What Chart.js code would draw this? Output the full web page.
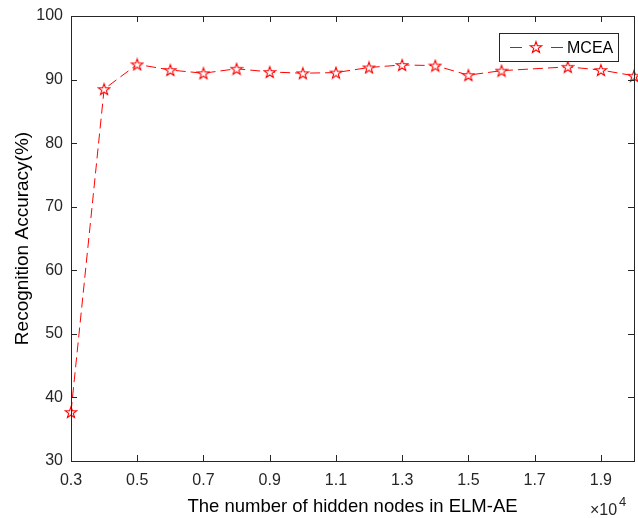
<!DOCTYPE html>
<html><head><meta charset="utf-8">
<script src="https://cdn.jsdelivr.net/npm/chart.js@4"></script>
<style>html,body{margin:0;padding:0;background:#fff}#wrap{width:638px;height:518px}</style>
</head><body><div id="wrap"><canvas id="c" width="638" height="518"></canvas></div>
<script>
const nodes = [0.3,0.4,0.5,0.6,0.7,0.8,0.9,1.0,1.1,1.2,1.3,1.4,1.5,1.6,1.8,1.9,2.0];
const accuracy = [37.7,88.5,92.4,91.5,91.0,91.7,91.2,91.0,91.1,91.9,92.3,92.2,90.7,91.4,92.0,91.5,90.6];
const xTicks = [0.3,0.5,0.7,0.9,1.1,1.3,1.5,1.7,1.9];
const yTicks = [30,40,50,60,70,80,90,100];
const seriesName = 'MCEA';
const xTitle = 'The number of hidden nodes in ELM-AE';
const yTitle = 'Recognition Accuracy(%)';
const FONT = '"Liberation Sans", Arial, sans-serif';

function pentagram(size){
  const cv = document.createElement('canvas');
  cv.width = size; cv.height = size;
  const g = cv.getContext('2d');
  const cx = size/2, cy = size/2 + 0.6, R = size/2 - 1, r = R*0.40;
  g.beginPath();
  for(let i=0;i<10;i++){
    const a = -Math.PI/2 + i*Math.PI/5;
    const rr = i%2===0 ? R : r;
    const px = cx + rr*Math.cos(a), py = cy + rr*Math.sin(a);
    if(i===0) g.moveTo(px,py); else g.lineTo(px,py);
  }
  g.closePath();
  g.fillStyle = '#fff'; g.fill();
  g.strokeStyle = '#ff0000'; g.lineWidth = 1.1; g.stroke();
  return cv;
}
const star = pentagram(14);

const frame = {
  id:'frame',
  afterDraw(chart){
    const {ctx, chartArea:a, scales} = chart;
    ctx.save();
    ctx.strokeStyle = '#262626'; ctx.lineWidth = 1;
    ctx.strokeRect(Math.round(a.left)+0.5, Math.round(a.top)+0.5, Math.round(a.right-a.left), Math.round(a.bottom-a.top));
    const tl = 6;
    ctx.beginPath();
    xTicks.forEach(v=>{
      const x = Math.round(scales.x.getPixelForValue(v))+0.5;
      ctx.moveTo(x, a.bottom); ctx.lineTo(x, a.bottom - tl);
      ctx.moveTo(x, a.top); ctx.lineTo(x, a.top + tl);
    });
    yTicks.forEach(v=>{
      const y = Math.round(scales.y.getPixelForValue(v))+0.5;
      ctx.moveTo(a.left, y); ctx.lineTo(a.left + tl, y);
      ctx.moveTo(a.right, y); ctx.lineTo(a.right - tl, y);
    });
    ctx.stroke();
    // x10^4 multiplier
    ctx.fillStyle = '#262626';
    ctx.textBaseline = 'alphabetic';
    ctx.font = '16px ' + FONT;
    ctx.fillText('\u00d710', 590, 515);
    ctx.font = '13px ' + FONT;
    ctx.fillText('4', 619, 506);
    // legend
    const lx = 499, ly = 33, lw = 119, lh = 28;
    ctx.fillStyle = '#fff';
    ctx.fillRect(lx, ly, lw, lh);
    ctx.strokeStyle = '#262626';
    ctx.strokeRect(lx+0.5, ly+0.5, lw, lh);
    const cy = ly + lh/2 + 0.5;
    ctx.strokeStyle = '#ff0000'; ctx.lineWidth = 1;
    ctx.beginPath();
    ctx.moveTo(510, cy); ctx.lineTo(522, cy);
    ctx.moveTo(551, cy); ctx.lineTo(563, cy);
    ctx.stroke();
    ctx.drawImage(star, 536 - star.width/2, cy - star.height/2 - 0.5);
    ctx.fillStyle = '#000';
    ctx.font = '16px ' + FONT;
    ctx.textBaseline = 'middle';
    ctx.fillText(seriesName, 567, cy + 1);
    ctx.restore();
  }
};

new Chart(document.getElementById('c'), {
  type:'line',
  data:{
    datasets:[{
      label: seriesName,
      data: nodes.map((x,i)=>({x, y: accuracy[i]})),
      borderColor:'#ff0000',
      borderWidth:1,
      borderDash:[10,5],
      pointStyle: star,
      pointRadius: 7,
      pointHoverRadius: 7,
      tension:0,
      fill:false,
      clip:false
    }]
  },
  options:{
    responsive:false,
    animation:false,
    devicePixelRatio:1,
    layout:{autoPadding:false, padding:{left:0,right:4,top:16,bottom:0}},
    plugins:{legend:{display:false},tooltip:{enabled:false}},
    scales:{
      x:{
        type:'linear', min:0.3, max:2.0,
        afterBuildTicks(s){ s.ticks = xTicks.map(v=>({value:v})); },
        afterFit(s){ s.height = 57; s.paddingLeft = 0; s.paddingRight = 0; },
        grid:{display:false, drawTicks:false},
        border:{display:false},
        ticks:{color:'#262626', font:{family:FONT, size:16}, padding:10, maxRotation:0, autoSkip:false,
          callback:v=>v.toFixed(1)},
        title:{display:true, text:xTitle, color:'#000', font:{family:FONT, size:18.5}, padding:{top:0,bottom:0}}
      },
      y:{
        min:30, max:100,
        afterBuildTicks(s){ s.ticks = yTicks.map(v=>({value:v})); },
        afterFit(s){ s.width = 71; s.paddingTop = 0; s.paddingBottom = 0; },
        grid:{display:false, drawTicks:false},
        border:{display:false},
        ticks:{color:'#262626', font:{family:FONT, size:16}, padding:8},
        title:{display:true, text:yTitle, color:'#000', font:{family:FONT, size:19}, padding:{top:11,bottom:4}}
      }
    }
  },
  plugins:[frame]
});
</script></body></html>
